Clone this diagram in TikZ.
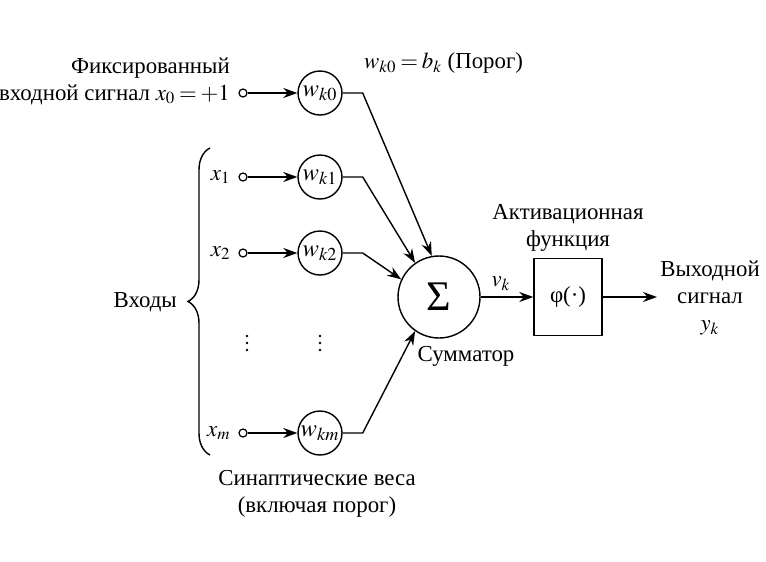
\documentclass[tikz,border=0pt]{standalone}
\usepackage{mathptmx}
\usepackage[no-math]{fontspec}
\setmainfont{Liberation Serif}
\usetikzlibrary{positioning, arrows.meta, decorations.pathreplacing}

\begin{document}
\begin{tikzpicture}[x=0.02cm, y=-0.02cm, font=\fontsize{13}{15.4}\selectfont,
  wnode/.style={circle, draw, line width=0.8pt, minimum size=0.88cm, inner sep=0pt,
                font=\fontsize{14}{16}\selectfont},
  innode/.style={circle, draw, line width=0.7pt, minimum size=0.16cm, inner sep=0pt},
  sumnode/.style={circle, draw, line width=0.8pt, minimum size=1.64cm, inner sep=0pt,
                  font=\fontsize{24}{26}\selectfont},
  link/.style={line width=0.8pt, -{Stealth[length=2.8mm, width=2mm]}}]
  \useasboundingbox (0,0) rectangle (766,561);

  % Adder and activation
  \node[sumnode] (sigma) at (439,297) {Σ};
  \node (summer) at (466,356) {Сумматор};
  \node[draw, line width=0.8pt, minimum width=1.36cm, minimum height=1.54cm] (phi) at (568,297) {φ(·)};
  \node[align=center] (act) at (568,228) {Активационная\\функция};
  \draw[link] (sigma) -- (phi);
  \node (vk) at (501,284) {$v_k$};
  \coordinate (out) at (657,297);
  \draw[link] (phi) -- (out);
  \node[align=center] (output) at (710,298) {Выходной\\сигнал\\$y_k$};

  % Weighted inputs
  \foreach \i/\y/\a in {0/93/100, 1/177/125, 2/253/155, m/433/235} {
    \node[innode] (in\i) at (243,\y) {};
    \node[wnode] (w\i) at (320,\y) {$w_{k\i}$};
    \draw[link] (in\i) -- (w\i);
    \draw[link] (w\i.east) -- ++(20,0) -- (sigma.\a);
  }
  \foreach \i in {1, 2, m} {
    \node[left=1pt of in\i] (x\i) {$x_\i$};
  }
  \node[anchor=east, align=right] (fixed) at (236,81)
    {Фиксированный\\входной сигнал {\thickmuskip=3mu $x_0=+1$}};
  \node[anchor=west] (bias) at (358,63) {{\thickmuskip=3mu $w_{k0}=b_k$} (Порог)};

  % Dots
  \foreach \x in {247, 320}
    \foreach \d in {-7, 0, 7}
      \fill (\x,343+\d) circle (0.8pt);

  % Inputs brace
  \draw[line width=0.8pt, decorate, decoration={brace, amplitude=0.44cm}] (210,455) -- (210,148);
  \node[anchor=east] (inputs) at (183,302) {Входы};
  \node[align=center] (syn) at (317,494) {Синаптические веса\\(включая порог)};
\end{tikzpicture}
\end{document}
